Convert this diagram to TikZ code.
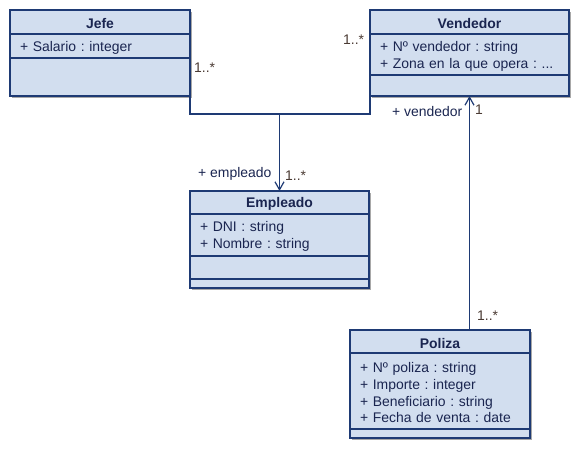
\documentclass[tikz,border=0pt]{standalone}
\usepackage{fontspec}
\setmainfont{Liberation Sans}
\frenchspacing
\usetikzlibrary{positioning,arrows.meta,calc,backgrounds}
\definecolor{umlfill}{HTML}{D2DEEF}
\definecolor{umlline}{HTML}{1E3A74}
\definecolor{umltext}{HTML}{1A2550}
\definecolor{multtext}{HTML}{4A3A33}
\definecolor{shadowc}{HTML}{A8A8A8}
\tikzset{
  blank/.style={draw=umlline, fill=umlfill, line width=1.2bp, inner xsep=10bp, inner ysep=0pt,
    outer sep=0pt, text=umltext, align=left, font=\fontsize{14}{16.7}\selectfont},
  part/.style={blank, text height=13.5bp},
  head/.style={part, align=center, font=\fontsize{14}{16.7}\selectfont\bfseries},
  assoc/.style={draw=umlline, line width=1.2bp},
  mult/.style={inner sep=0pt, anchor=west, text=multtext, font=\fontsize{14}{16.7}\selectfont},
  role/.style={inner sep=0pt, anchor=west, text=umltext, font=\fontsize{14}{16.7}\selectfont}
}
\begin{document}
\begin{tikzpicture}[x=1bp, y=-1bp]
    \useasboundingbox (0,0) rectangle (581,450);
    % the classes
    \node[head, text width=160bp, minimum height=24bp, anchor=north west] (jefe) at (10,10) {Jefe};
    \node[part, text width=160bp, minimum height=24bp, below=0pt of jefe] (jefeA) {+ Salario : integer};
    \node[blank, text width=160bp, minimum height=38bp, below=0pt of jefeA] (jefeO) {};
    \node[head, text width=179bp, minimum height=24bp, anchor=north west] (vend) at (370,10) {Vendedor};
    \node[part, text width=179bp, minimum height=41bp, below=0pt of vend] (vendA) {+ Nº vendedor : string\\+ Zona en la que opera : ...};
    \node[blank, text width=179bp, minimum height=21bp, below=0pt of vendA] (vendO) {};
    \node[head, text width=159bp, minimum height=23bp, anchor=north west] (emp) at (190,191) {Empleado};
    \node[part, text width=159bp, minimum height=42bp, below=0pt of emp] (empA) {+ DNI : string\\+ Nombre : string};
    \node[blank, text width=159bp, minimum height=23bp, below=0pt of empA] (empO) {};
    \node[blank, text width=159bp, minimum height=9bp, below=0pt of empO] (empX) {};
    \node[head, text width=160bp, minimum height=23bp, anchor=north west] (pol) at (350,330) {Poliza};
    \node[part, text width=160bp, minimum height=76bp, below=0pt of pol] (polA) {+ Nº poliza : string\\+ Importe : integer\\+ Beneficiario : string\\+ Fecha de venta : date};
    \node[blank, text width=160bp, minimum height=9bp, below=0pt of polA] (polO) {};
    % the shadows
    \begin{scope}[on background layer]
        \fill[shadowc] ($(jefe.north west)+(2,2)$) rectangle ($(jefeO.south east)+(2,2)$);
        \fill[shadowc] ($(vend.north west)+(2,2)$) rectangle ($(vendO.south east)+(2,2)$);
        \fill[shadowc] ($(emp.north west)+(2,2)$) rectangle ($(empX.south east)+(2,2)$);
        \fill[shadowc] ($(pol.north west)+(2,2)$) rectangle ($(polO.south east)+(2,2)$);
    \end{scope}
    % the associations
    \coordinate (knee) at (emp.north |- 0,114);
    \draw[assoc] (jefeO.south east) |- (knee) -| (vendO.south west);
    \draw[assoc, -{Straight Barb[length=8bp, width=9bp]}] (knee) -- (emp.north);
    \draw[assoc, -{Straight Barb[length=8bp, width=9bp]}] (pol.north -| vendO.south) -- (vendO.south);
    % the role names and multiplicities
    \node[mult] (mJefe) at (194,68) {1..*};
    \node[mult] (mVend) at (343,40) {1..*};
    \node[role] (rVend) at (392,112) {+ vendedor};
    \node[mult] (mVendP) at (475,110) {1};
    \node[role] (rEmp) at (198,174) {+ empleado};
    \node[mult] (mEmp) at (285,176) {1..*};
    \node[mult] (mPol) at (477,316) {1..*};
\end{tikzpicture}
\end{document}
